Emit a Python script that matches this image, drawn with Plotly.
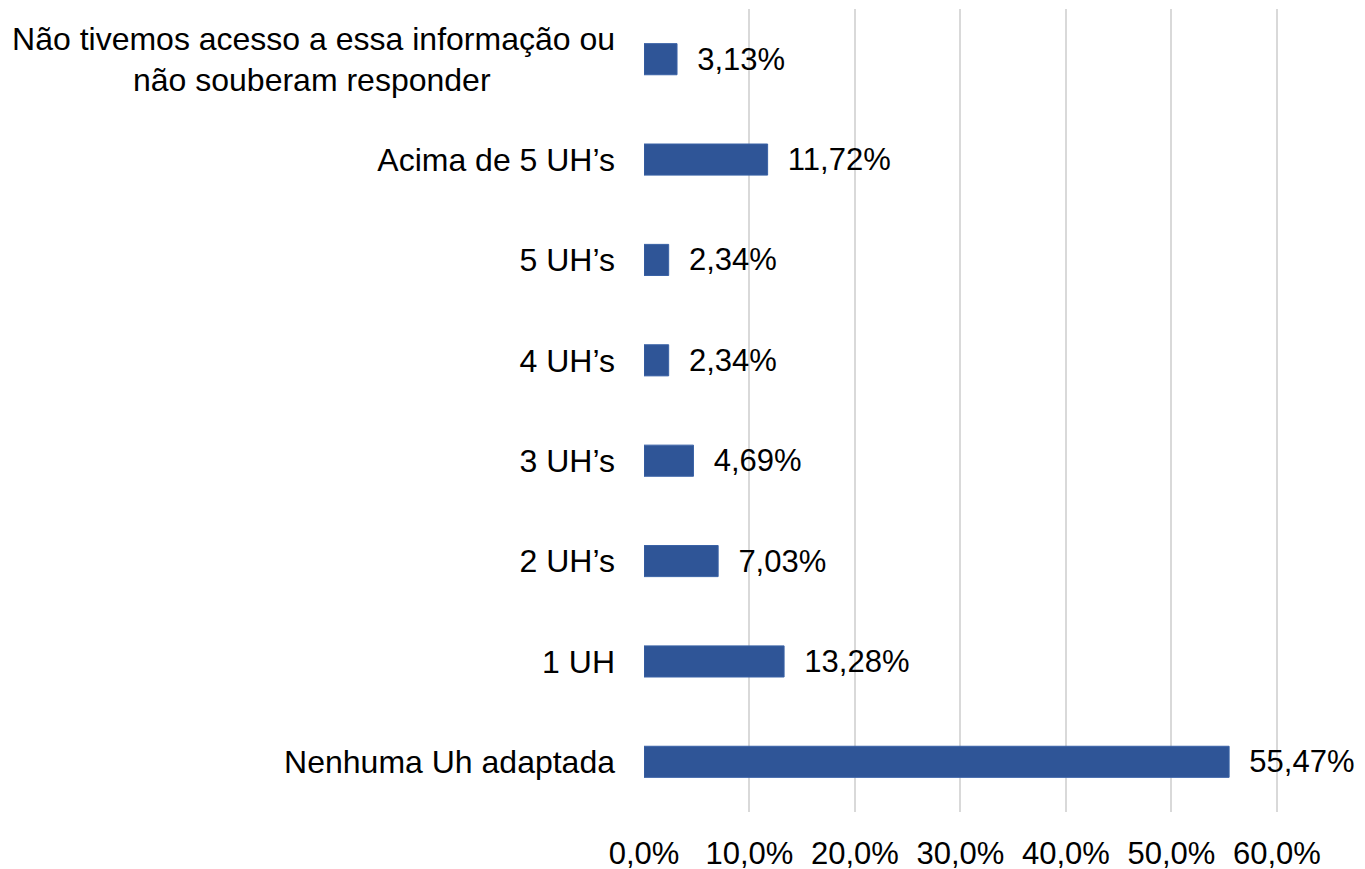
import plotly.graph_objects as go

categories = [
    "Nenhuma Uh adaptada",
    "1 UH",
    "2 UH’s",
    "3 UH’s",
    "4 UH’s",
    "5 UH’s",
    "Acima de 5 UH’s",
    "Não tivemos acesso a essa informação ou<br>não souberam responder" + "\u00a0" * 14,
]
values = [55.47, 13.28, 7.03, 4.69, 2.34, 2.34, 11.72, 3.13]
value_labels = ["55,47%", "13,28%", "7,03%", "4,69%", "2,34%", "2,34%", "11,72%", "3,13%"]
x_ticks = [0, 10, 20, 30, 40, 50, 60]
x_tick_labels = ["0,0%", "10,0%", "20,0%", "30,0%", "40,0%", "50,0%", "60,0%"]

FONT = "Liberation Sans, Arial, sans-serif"

fig = go.Figure(
    go.Bar(
        x=values,
        y=list(range(len(categories))),
        orientation="h",
        width=0.31,
        marker=dict(color="#2F5597", line=dict(color="#3A62A6", width=1)),
        text=["\u00a0\u00a0" + t for t in value_labels],
        textposition="outside",
        constraintext="none",
        textfont=dict(family=FONT, size=31, color="#000000"),
        cliponaxis=False,
    )
)

fig.update_layout(
    width=1365,
    height=869,
    margin=dict(l=636, r=94, t=1, b=65),
    paper_bgcolor="white",
    plot_bgcolor="white",
    showlegend=False,
    font=dict(family=FONT, size=31, color="#000000"),
)

fig.update_xaxes(
    range=[0, 60.2],
    tickvals=x_ticks,
    ticktext=x_tick_labels,
    showgrid=True,
    gridcolor="#D9D9D9",
    gridwidth=2,
    zeroline=False,
    showline=False,
    ticks="",
    ticklabelstandoff=20,
    tickfont=dict(family=FONT, size=31, color="#000000"),
)
fig.update_yaxes(
    range=[-0.5, 7.5],
    tickvals=list(range(len(categories))),
    ticktext=categories,
    showgrid=False,
    zeroline=False,
    showline=False,
    ticks="",
    ticklabelstandoff=28,
    tickfont=dict(family=FONT, size=32, color="#000000"),
)

fig.write_html("out.html")
